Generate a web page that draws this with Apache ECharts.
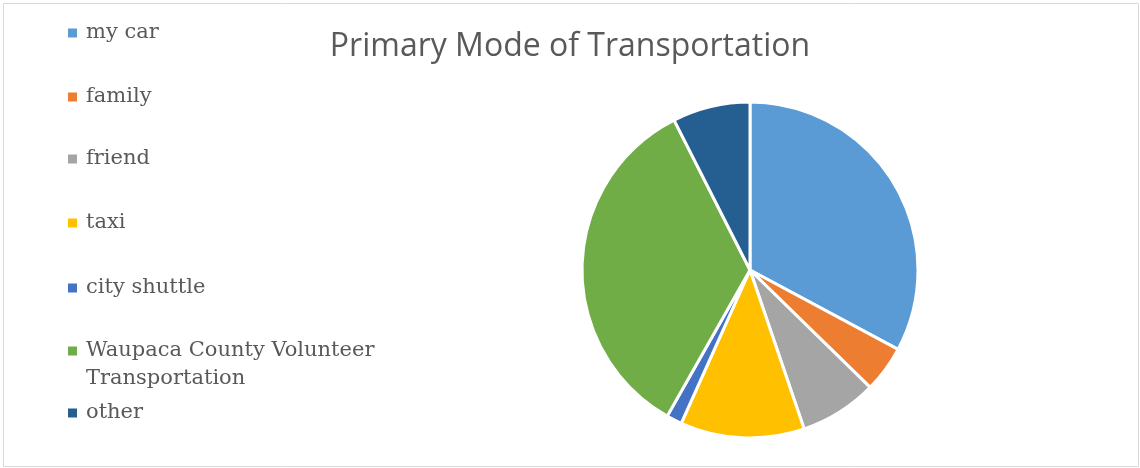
<!DOCTYPE html>
<html>
<head>
<meta charset="utf-8">
<script src="https://cdn.jsdelivr.net/npm/echarts@6/dist/echarts.min.js"></script>
<style>
html,body{margin:0;padding:0;background:#fff;}
#chart{width:1140px;height:468px;}
</style>
</head>
<body>
<div id="chart"></div>
<script>
var titleText = 'Primary Mode of Transportation';
var categories = ['my car', 'family', 'friend', 'taxi', 'city shuttle', 'Waupaca County Volunteer Transportation', 'other'];
var values = [22, 3, 5, 8, 1, 23, 5];
var colors = ['#5B9BD5', '#ED7D31', '#A5A5A5', '#FFC000', '#4472C4', '#70AD47', '#255E91'];

var legendCenters = [33, 97, 159, 223, 288, 351, 413];
var legendFont = { fontFamily: 'DejaVu Serif', fontSize: 21, color: '#595959', lineHeight: 28, padding: [0, 0, 0, 4] };

var legends = categories.map(function (name, i) {
  var isLong = name.indexOf('Waupaca') === 0;
  var ts = Object.assign({}, legendFont);
  return {
    data: [name],
    orient: 'vertical',
    left: 68,
    top: isLong ? legendCenters[i] - 42 : legendCenters[i] - 14,
    padding: 0,
    itemWidth: 9,
    itemHeight: 9,
    icon: 'rect',
    itemStyle: { borderWidth: 0 },
    selectedMode: false,
    textStyle: ts,
    formatter: isLong ? function (n) { return '\nWaupaca County Volunteer\nTransportation'; } : undefined
  };
});

var chart = echarts.init(document.getElementById('chart'));
chart.setOption({
  animation: false,
  color: colors,
  title: {
    text: titleText,
    left: 'center',
    top: 26,
    textStyle: { fontFamily: 'Open Sans', fontSize: 32, fontWeight: 'normal', color: '#595959' }
  },
  graphic: [{
    type: 'rect',
    shape: { x: 3.5, y: 3.5, width: 1135, height: 463 },
    style: { fill: 'none', stroke: '#d9d9d9', lineWidth: 1 },
    silent: true
  }],
  legend: legends,
  series: [{
    type: 'pie',
    center: [750, 270],
    radius: 168,
    startAngle: 90,
    clockwise: true,
    label: { show: false },
    labelLine: { show: false },
    itemStyle: { borderColor: '#ffffff', borderWidth: 3 },
    emphasis: { disabled: true },
    data: categories.map(function (c, i) { return { name: c, value: values[i] }; })
  }]
});
</script>
</body>
</html>
